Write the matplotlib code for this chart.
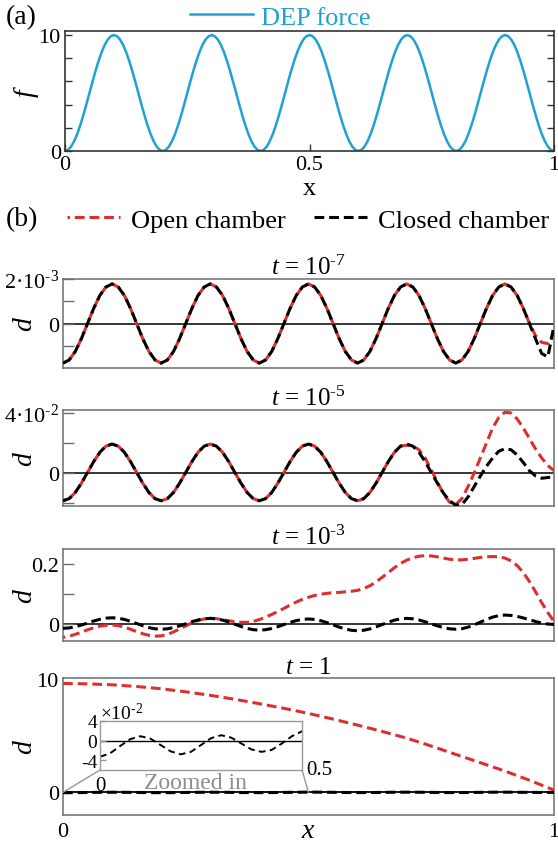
import numpy as np
import matplotlib
matplotlib.use('Agg')
import matplotlib.pyplot as plt
from matplotlib.patches import ConnectionPatch

plt.rcParams['font.family'] = ['Liberation Serif', 'DejaVu Serif']
plt.rcParams['mathtext.fontset'] = 'custom'
plt.rcParams['mathtext.rm'] = 'Liberation Serif'
plt.rcParams['mathtext.it'] = 'Liberation Serif:italic'
plt.rcParams['mathtext.bf'] = 'Liberation Serif:bold'

# ---------------- data ----------------
x_force = np.linspace(0, 1, 161)
dep_force = [
    0.0, 0.096, 0.381, 0.843, 1.464, 2.222, 3.087, 4.025, 5.0, 5.975, 6.913, 7.778, 8.536, 9.157, 9.619, 9.904,
    10.0, 9.904, 9.619, 9.157, 8.536, 7.778, 6.913, 5.975, 5.0, 4.025, 3.087, 2.222, 1.464, 0.843, 0.381, 0.096,
    0.0, 0.096, 0.381, 0.843, 1.464, 2.222, 3.087, 4.025, 5.0, 5.975, 6.913, 7.778, 8.536, 9.157, 9.619, 9.904,
    10.0, 9.904, 9.619, 9.157, 8.536, 7.778, 6.913, 5.975, 5.0, 4.025, 3.087, 2.222, 1.464, 0.843, 0.381, 0.096,
    0.0, 0.096, 0.381, 0.843, 1.464, 2.222, 3.087, 4.025, 5.0, 5.975, 6.913, 7.778, 8.536, 9.157, 9.619, 9.904,
    10.0, 9.904, 9.619, 9.157, 8.536, 7.778, 6.913, 5.975, 5.0, 4.025, 3.087, 2.222, 1.464, 0.843, 0.381, 0.096,
    0.0, 0.096, 0.381, 0.843, 1.464, 2.222, 3.087, 4.025, 5.0, 5.975, 6.913, 7.778, 8.536, 9.157, 9.619, 9.904,
    10.0, 9.904, 9.619, 9.157, 8.536, 7.778, 6.913, 5.975, 5.0, 4.025, 3.087, 2.222, 1.464, 0.843, 0.381, 0.096,
    0.0, 0.096, 0.381, 0.843, 1.464, 2.222, 3.087, 4.025, 5.0, 5.975, 6.913, 7.778, 8.536, 9.157, 9.619, 9.904,
    10.0, 9.904, 9.619, 9.157, 8.536, 7.778, 6.913, 5.975, 5.0, 4.025, 3.087, 2.222, 1.464, 0.843, 0.381, 0.096,
    0.0]

x_fine = np.linspace(0, 1, 81)

# t = 1e-7, units of 1e-3
closed_t7 = [-1.78, -1.64, -1.26, -0.68, 0.0, 0.68, 1.26, 1.64, 1.78, 1.64, 1.26, 0.68, 0.0, -0.68, -1.26, -1.64,
             -1.78, -1.64, -1.26, -0.68, 0.0, 0.68, 1.26, 1.64, 1.78, 1.64, 1.26, 0.68, 0.0, -0.68, -1.26, -1.64,
             -1.78, -1.64, -1.26, -0.68, 0.0, 0.68, 1.26, 1.64, 1.78, 1.64, 1.26, 0.68, 0.0, -0.68, -1.26, -1.64,
             -1.78, -1.64, -1.26, -0.68, 0.0, 0.68, 1.26, 1.64, 1.78, 1.64, 1.26, 0.68, 0.0, -0.68, -1.26, -1.64,
             -1.78, -1.64, -1.26, -0.68, 0.0, 0.68, 1.26, 1.64, 1.78, 1.64, 1.26, 0.68, 0.0,
             -0.7, -1.35, -1.5, -0.1]
open_t7 = [-1.78, -1.64, -1.26, -0.68, 0.0, 0.68, 1.26, 1.64, 1.78, 1.64, 1.26, 0.68, 0.0, -0.68, -1.26, -1.64,
           -1.78, -1.64, -1.26, -0.68, 0.0, 0.68, 1.26, 1.64, 1.78, 1.64, 1.26, 0.68, 0.0, -0.68, -1.26, -1.64,
           -1.78, -1.64, -1.26, -0.68, 0.0, 0.68, 1.26, 1.64, 1.78, 1.64, 1.26, 0.68, 0.0, -0.68, -1.26, -1.64,
           -1.78, -1.64, -1.26, -0.68, 0.0, 0.68, 1.26, 1.64, 1.78, 1.64, 1.26, 0.68, 0.0, -0.68, -1.26, -1.64,
           -1.78, -1.64, -1.26, -0.68, 0.0, 0.68, 1.26, 1.64, 1.78, 1.64, 1.26, 0.68, 0.0,
           -0.55, -0.85, -0.9, -0.4]

# t = 1e-5, units of 1e-2
closed_t5 = [-1.85, -1.71, -1.30, -0.68, 0.04, 0.76, 1.38, 1.79, 1.93, 1.79, 1.38, 0.76, 0.04, -0.68, -1.30, -1.71,
             -1.85, -1.71, -1.30, -0.68, 0.04, 0.76, 1.38, 1.79, 1.93, 1.79, 1.38, 0.76, 0.04, -0.68, -1.30, -1.71,
             -1.85, -1.71, -1.30, -0.68, 0.04, 0.76, 1.38, 1.79, 1.93, 1.79, 1.38, 0.76, 0.04, -0.68, -1.30, -1.71,
             -1.85, -1.71, -1.30, -0.68, 0.04, 0.76, 1.38, 1.79, 1.93,
             1.79, 1.38, 0.76, 0.04, -0.68, -1.35, -1.85, -2.15, -2.1, -1.6, -0.9, -0.2, 0.45, 1.0, 1.45, 1.62,
             1.55, 1.2, 0.7, 0.15, -0.2, -0.35, -0.3, -0.25]
open_t5 = [-1.85, -1.71, -1.30, -0.68, 0.04, 0.76, 1.38, 1.79, 1.93, 1.79, 1.38, 0.76, 0.04, -0.68, -1.30, -1.71,
           -1.85, -1.71, -1.30, -0.68, 0.04, 0.76, 1.38, 1.79, 1.93, 1.79, 1.38, 0.76, 0.04, -0.68, -1.30, -1.71,
           -1.85, -1.71, -1.30, -0.68, 0.04, 0.76, 1.38, 1.79, 1.93, 1.79, 1.38, 0.76, 0.04, -0.68, -1.30, -1.71,
           -1.85, -1.71, -1.30, -0.68, 0.04, 0.76, 1.38, 1.79, 1.85,
           1.80, 1.55, 1.0, 0.2, -0.6, -1.4, -1.95, -2.1, -1.7, -0.9, 0.0, 1.0, 2.0, 3.0, 3.7, 4.05,
           4.0, 3.6, 3.0, 2.3, 1.6, 1.0, 0.5, 0.15]

# t = 1e-3, units of 1e-2
closed_t3 = [-1.3, -1.17, -0.79, -0.22, 0.45, 1.12, 1.69, 2.07,
             2.2, 2.06, 1.65, 1.03, 0.3, -0.43, -1.05, -1.46,
             -1.6, -1.46, -1.07, -0.49, 0.2, 0.89, 1.47, 1.86,
             2.0, 1.85, 1.43, 0.79, 0.05, -0.69, -1.33, -1.75,
             -1.9, -1.76, -1.36, -0.76, -0.05, 0.66, 1.26, 1.66,
             1.8, 1.65, 1.23, 0.59, -0.15, -0.89, -1.53, -1.95,
             -2.1, -1.94, -1.5, -0.83, -0.05, 0.73, 1.4, 1.84,
             2.0, 1.86, 1.47, 0.89, 0.2, -0.49, -1.07, -1.46,
             -1.6, -1.42, -0.91, -0.15, 0.75, 1.65, 2.41, 2.92,
             3.1, 2.98, 2.65, 2.14, 1.55, 0.96, 0.45, 0.12,
             0.0]
open_t3 = [-4.3, -3.9, -3.3, -2.6, -1.8, -1.1, -0.6, -0.3, -0.2, -0.4,
           -0.9, -1.6, -2.4, -3.1, -3.6, -3.9, -3.8, -3.3, -2.5, -1.5,
           -0.5, 0.5, 1.3, 1.8, 2.0, 1.9, 1.6, 1.2, 0.9, 0.7,
           0.7, 1.0, 1.6, 2.4, 3.3, 4.3, 5.3, 6.4, 7.4, 8.3,
           9.0, 9.6, 10.0, 10.3, 10.5, 10.6, 10.8, 11.0, 11.3, 11.9,
           12.8, 14.1, 15.6, 17.2, 18.8, 20.2, 21.3, 22.1, 22.6, 22.8,
           22.7, 22.4, 22.0, 21.6, 21.4, 21.4, 21.6, 21.9, 22.2, 22.4,
           22.5, 22.4, 22.0, 21.1, 19.5, 17.2, 14.2, 10.8, 7.2, 3.9,
           1.0]

# t = 1
x_t1_open = np.linspace(0, 1, 21)
open_t1 = [9.62, 9.58, 9.50, 9.35, 9.15, 8.88, 8.57, 8.22, 7.83, 7.42, 6.97,
           6.47, 5.94, 5.38, 4.79, 4.09, 3.35, 2.62, 1.88, 1.07, 0.2]
x_t1_closed = np.linspace(0, 1, 41)
closed_t1 = [-3.3, -2.6, -1.1, 0.3, 0.9, 0.4, -0.9, -2.2, -2.8, -2.3, -0.9, 0.5, 1.1, 0.6, -0.6,
             -1.8, -2.3, -1.9, -0.6, 0.9, 1.9, 1.6, 0.3, -1.2, -2.1, -1.7, -0.4, 1.0, 1.6, 1.0,
             -0.3, -1.6, -2.0, -1.3, 0.1, 1.4, 1.8, 1.0, -0.4, -0.8, 0.0]   # units of 1e-2

# ---------------- style ----------------
CYAN = '#21a1d3'
RED = '#dc2f2f'
GRAY = '#6e6e6e'
LW = 2.2
RED_LS = (2.4, (3.2, 1.6))
BLK_LS = (0, (3.2, 1.6))

W, H = 558, 845
def rect(l, r, t, b):
    return [l / W, 1 - b / H, (r - l) / W, (b - t) / H]

fig = plt.figure(figsize=(W / 100, H / 100), dpi=100)

# ---------------- panel (a) ----------------
axA = fig.add_axes(rect(65, 554, 32, 152))
axA.plot(x_force, dep_force, color=CYAN, lw=1.8, label='DEP force')
axA.set_xlim(0, 1)
axA.set_ylim(0, 10.35)
axA.set_yticks([0, 2, 4, 6, 8, 10])
axA.set_yticklabels(['0', '', '', '', '', '10'])
axA.set_xticks([0, 0.5, 1])
axA.set_xticklabels(['0', '0.5', '1'])
axA.tick_params(direction='in', length=5, width=1, labelsize=16, right=True, pad=3, color='#333333')
for s in axA.spines.values():
    s.set_color('#333333')
    s.set_linewidth(1.2)
axA.set_xlabel('x', fontsize=19)
axA.xaxis.set_label_coords(0.5, -0.22)
axA.set_ylabel('$f$', fontsize=20)
axA.yaxis.set_label_coords(-0.05, 0.5)
axA.legend(loc='lower center', bbox_to_anchor=(0.44, 1.02), frameon=False, fontsize=19,
           handlelength=2.4, handletextpad=0.3, borderaxespad=0.0, borderpad=0.0,
           labelcolor='linecolor')
fig.text(6 / W, 1 - 18 / H, '(a)', fontsize=20, ha='left', va='center')

# ---------------- panel (b) ----------------
specs = [
    dict(r=(63, 554, 280, 369), x=x_fine, o=open_t7, c=closed_t7, scale=1e-3, ylim=(-2e-3, 2e-3),
         yt=[-1e-3, 0, 1e-3, 2e-3], ytl=['', '0', '', '2·10$^{\\text{-3}}$'], title='-7'),
    dict(r=(63, 554, 411, 507), x=x_fine, o=open_t5, c=closed_t5, scale=1e-2, ylim=(-2.2e-2, 4.2e-2),
         yt=[-2e-2, 0, 2e-2, 4e-2], ytl=['', '0', '', '4·10$^{\\text{-2}}$'], title='-5'),
    dict(r=(63, 554, 550, 642), x=x_fine, o=open_t3, c=closed_t3, scale=1e-2, ylim=(-0.055, 0.25),
         yt=[0, 0.1, 0.2], ytl=['0', '', '0.2'], title='-3'),
]
axes_b = []
for sp in specs:
    ax = fig.add_axes(rect(*sp['r']))
    ax.axhline(0, color='k', lw=1.1, zorder=1)
    lo, = ax.plot(sp['x'], np.array(sp['o']) * sp['scale'], color=RED, lw=LW, ls=RED_LS, zorder=2,
                  label='Open chamber')
    lc, = ax.plot(sp['x'], np.array(sp['c']) * sp['scale'], color='k', lw=LW, ls=BLK_LS, zorder=3,
                  label='Closed chamber')
    ax.set_xlim(0, 1)
    ax.set_ylim(*sp['ylim'])
    ax.set_yticks(sp['yt'])
    ax.set_yticklabels(sp['ytl'])
    ax.set_xticks([])
    ax.tick_params(axis='y', direction='in', length=8, width=1, color=GRAY, labelsize=16, pad=3)
    for s in ax.spines.values():
        s.set_color(GRAY)
        s.set_linewidth(1.1)
    ax.set_title('$t$ = 10$^{\\text{' + sp['title'] + '}}$', fontsize=18, pad=2)
    ax.set_ylabel('$d$', fontsize=20)
    ax.yaxis.set_label_coords(-0.05, 0.5)
    axes_b.append((ax, lo, lc))

ax4 = fig.add_axes(rect(63, 554, 679, 816))
ax4.axhline(0, color='k', lw=1.3, zorder=1)
ax4.plot(x_t1_open, open_t1, color=RED, lw=LW, ls=(0, (3.2, 1.6)), zorder=2)
ax4.plot(x_t1_closed, np.array(closed_t1) * 1e-2, color='k', lw=LW, ls=BLK_LS, zorder=3)
ax4.set_xlim(0, 1)
ax4.set_ylim(-2, 10.1)
ax4.set_yticks([0, 10])
ax4.set_yticklabels(['0', '10'])
ax4.set_xticks([0, 1])
ax4.set_xticklabels(['0', '1'])
ax4.tick_params(axis='y', direction='in', length=0, labelsize=16, pad=3)
ax4.tick_params(axis='x', length=0, labelsize=16, pad=5)
for s in ax4.spines.values():
    s.set_color(GRAY)
    s.set_linewidth(1.1)
ax4.set_title('$t$ = 1', fontsize=18, pad=2)
ax4.set_ylabel('$d$', fontsize=20)
ax4.yaxis.set_label_coords(-0.05, 0.5)
ax4.set_xlabel('$x$', fontsize=20)
ax4.xaxis.set_label_coords(0.5, -0.025)
ax4.text(0.27, 0.24, 'Zoomed in', transform=ax4.transAxes, ha='center', va='center',
         color='#8c8c8c', fontsize=17)

# inset
axI = fig.add_axes(rect(100, 302, 722, 771))
axI.axhline(0, color='k', lw=1.0, zorder=1)
axI.plot(x_t1_closed, closed_t1, color='k', lw=1.4, ls=(0, (3.5, 2.2)), zorder=2)
axI.set_xlim(0, 0.5)
axI.set_ylim(-6, 4)
axI.set_yticks([-4, 0, 4])
axI.set_yticklabels(['-4', '0', '4'])
axI.set_xticks([])
axI.tick_params(axis='y', direction='in', length=4, width=1, color='#999999', labelsize=14, pad=2)
for s in axI.spines.values():
    s.set_color('#999999')
    s.set_linewidth(1.0)
axI.text(0.0, 0.96, '×10$^{\\text{-2}}$', transform=axI.transAxes, ha='left', va='bottom', fontsize=14)
axI.text(0.0, -0.12, '0', transform=axI.transAxes, ha='center', va='top', fontsize=15)
axI.text(1.02, 0.0, '0.5', transform=axI.transAxes, ha='left', va='center', fontsize=15)
for xa, xd in [(0, 0.0), (1, 0.5)]:
    cp = ConnectionPatch(xyA=(xa, 0), coordsA=axI.transAxes, xyB=(xd, 0), coordsB=ax4.transData,
                         color='#999999', lw=1.0)
    fig.add_artist(cp)

# legend for (b)
_, lo, lc = axes_b[0]
fig.legend(handles=[lo, lc], labels=['Open chamber', 'Closed chamber'], loc='center',
           bbox_to_anchor=(308 / W, 1 - 221 / H), ncol=2, frameon=False, fontsize=19,
           handlelength=2.0, handletextpad=0.4, columnspacing=1.1)
fig.text(6 / W, 1 - 220 / H, '(b)', fontsize=20, ha='left', va='center')

fig.savefig('out.png', dpi=100)
